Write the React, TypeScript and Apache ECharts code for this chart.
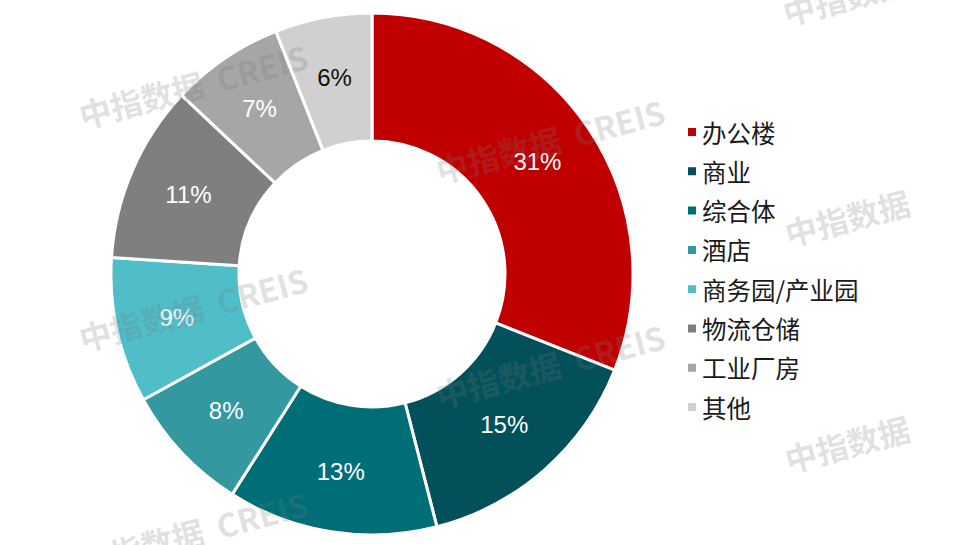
import React, { useEffect, useRef } from "react";
import * as echarts from "echarts";

const categories = ["办公楼", "商业", "综合体", "酒店", "商务园/产业园", "物流仓储", "工业厂房", "其他"];
const values = [31, 15, 13, 8, 9, 11, 7, 6];
const colors = ["#C00000", "#02515A", "#006E76", "#3498A1", "#4FBEC9", "#7F7F7F", "#A6A6A6", "#D0D0D0"];
const labelColors = ["#FFFFFF", "#FFFFFF", "#FFFFFF", "#FFFFFF", "#FFFFFF", "#FFFFFF", "#FFFFFF", "#111111"];
const watermarkFull = "中指数据  CREIS";
const watermarkShort = "中指数据";

export default function App() {
  const ref = useRef<HTMLDivElement>(null);
  useEffect(() => {
    if (!ref.current) return;
    const chart = echarts.init(ref.current, null, { renderer: "svg" });
    const wmFull = [
      [193, 85], [193, 308], [193, 532],
      [550, 140], [550, 365],
    ];
    const wmShort = [
      [845, -4], [847, 217], [847, 443],
    ];
    const wmStyle = (text: string) => ({
      text,
      font: "bold 32px 'Noto Sans CJK SC', sans-serif",
      fill: "rgba(120,120,120,0.22)",
      textAlign: "center",
      textVerticalAlign: "middle",
    });
    chart.setOption({
      animation: false,
      backgroundColor: "#FFFFFF",
      legend: {
        orient: "vertical",
        left: 681,
        top: 112,
        itemWidth: 10,
        itemHeight: 10,
        itemGap: 9.3,
        icon: "rect",
        data: categories,
        textStyle: {
          fontSize: 24.5,
          lineHeight: 30,
          color: "#1A1A1A",
          fontFamily: "'Noto Sans CJK SC', sans-serif",
        },
      },
      series: [
        {
          type: "pie",
          center: [372, 274],
          radius: [133, 261],
          startAngle: 90,
          clockwise: true,
          avoidLabelOverlap: false,
          itemStyle: { borderColor: "#FFFFFF", borderWidth: 3 },
          label: {
            show: true,
            position: "inside",
            formatter: "{c}%",
            fontSize: 24,
            fontFamily: "'Liberation Sans', Arial, sans-serif",
          },
          labelLine: { show: false },
          emphasis: { disabled: true },
          data: categories.map((name, i) => ({
            name,
            value: values[i],
            itemStyle: { color: colors[i] },
            label: { color: labelColors[i] },
          })),
        },
      ],
      graphic: [
        ...wmFull.map(([x, y]) => ({
          type: "text",
          x,
          y,
          rotation: 0.26,
          z: 100,
          silent: true,
          style: wmStyle(watermarkFull),
        })),
        ...wmShort.map(([x, y]) => ({
          type: "text",
          x,
          y,
          rotation: 0.26,
          z: 100,
          silent: true,
          style: wmStyle(watermarkShort),
        })),
      ],
    });
    return () => chart.dispose();
  }, []);
  return (
    <div
      ref={ref}
      style={{ position: "fixed", left: 0, top: 0, width: 960, height: 545 }}
    />
  );
}
